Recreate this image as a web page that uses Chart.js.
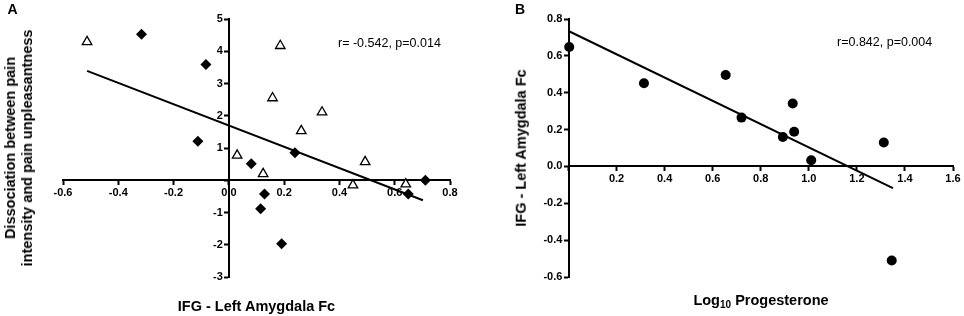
<!DOCTYPE html>
<html>
<head>
<meta charset="utf-8">
<script src="https://cdn.jsdelivr.net/npm/chart.js@4.4.1/dist/chart.umd.min.js"></script>
<style>
  body { margin: 0; background: #fff; }
  #wrap { position: relative; width: 964px; height: 316px; overflow: hidden;
          font-family: "Liberation Sans", Arial, sans-serif; color: #000; }
  canvas { position: absolute; top: 0; }
  .txt { position: absolute; white-space: nowrap; line-height: 1; }
  .ctr { transform: translate(-50%, -50%); }
  .bold { font-weight: bold; }
</style>
</head>
<body>
<div id="wrap">
  <canvas id="chartA" width="480" height="316" style="left:0"></canvas>
  <canvas id="chartB" width="484" height="316" style="left:480px"></canvas>

  <div class="txt bold ctr" style="left:12.5px; top:9px; font-size:14px">A</div>
  <div class="txt bold ctr" style="left:520px; top:9px; font-size:14px">B</div>

  <div class="txt" style="left:338px; top:37px; font-size:12.5px">r= -0.542, p=0.014</div>
  <div class="txt" style="left:837px; top:36px; font-size:12.5px">r=0.842, p=0.004</div>

  <div class="txt bold ctr" style="left:256.5px; top:305.5px; font-size:14.5px">IFG - Left Amygdala Fc</div>
  <div class="txt bold ctr" style="left:761px; top:300px; font-size:14.5px">Log<span style="font-size:10px; position:relative; top:3px">10</span> Progesterone</div>

  <div class="txt bold" style="left:18.8px; top:148px; font-size:14.5px; line-height:17px; text-align:center;
       transform: translate(-50%, -50%) rotate(-90deg)">Dissociation between pain<br>intensity and pain unpleasantness</div>
  <div class="txt bold" style="left:520.5px; top:147.5px; font-size:14.5px;
       transform: translate(-50%, -50%) rotate(-90deg)">IFG - Left Amygdala Fc</div>
</div>

<script>
// Panel A: open triangles and filled diamonds
const triX = [-0.513, 0.186, 0.158, 0.337, 0.262, 0.030, 0.124, 0.493, 0.449, 0.640];
const triY = [4.29, 4.17, 2.55, 2.11, 1.53, 0.77, 0.20, 0.57, -0.15, -0.12];
const diaX = [-0.316, -0.083, -0.112, 0.081, 0.239, 0.129, 0.115, 0.191, 0.711, 0.649];
const diaY = [4.53, 3.59, 1.21, 0.51, 0.85, -0.43, -0.88, -1.97, 0.0, -0.43];
const fitAX = [-0.513, 0.702];
const fitAY = [3.39, -0.62];

// Panel B: progesterone vs Fc
const progX = [0.003, 0.314, 0.654, 0.720, 0.933, 0.939, 0.892, 1.010, 1.312, 1.345];
const fcY = [0.648, 0.451, 0.496, 0.265, 0.341, 0.188, 0.160, 0.034, 0.130, -0.510];
const fitBX = [0, 1.35];
const fitBY = [0.735, -0.118];

const toPts = (xs, ys) => xs.map((x, i) => ({ x: x, y: ys[i] }));
const tickFont = { family: '"Liberation Sans", Arial, sans-serif', size: 11, weight: 'bold' };
const oneDec = v => (Math.abs(v) < 1e-9 ? 0 : v).toFixed(1);
// y labels on an axis placed at x=0 get drawn right on the line, so pad them
const gap = '  ';

function axis(min, max, step, pos, cb, pad) {
  return {
    type: 'linear', min: min, max: max, position: pos,
    border: { display: true, color: '#000', width: 2 },
    grid: { display: true, drawOnChartArea: false, drawTicks: true,
            tickLength: 4, tickWidth: 2, tickColor: '#000' },
    ticks: { stepSize: step, color: '#000', font: tickFont, padding: pad,
             autoSkip: false, maxRotation: 0, callback: cb }
  };
}

const baseOpts = {
  responsive: false,
  animation: false,
  plugins: { legend: { display: false }, tooltip: { enabled: false } }
};

new Chart('chartA', {
  type: 'scatter',
  data: {
    datasets: [{
      data: toPts(triX, triY),
      pointStyle: 'triangle', pointRadius: 5.5,
      backgroundColor: '#fff', borderColor: '#000', borderWidth: 1.3, clip: false
    }, {
      data: toPts(diaX, diaY),
      pointStyle: 'rectRot', pointRadius: 5.5,
      backgroundColor: '#000', borderColor: '#000', borderWidth: 0, clip: false
    }, {
      data: toPts(fitAX, fitAY),
      showLine: true, pointRadius: 0,
      borderColor: '#000', borderWidth: 2, fill: false
    }]
  },
  options: Object.assign({}, baseOpts, {
    layout: { padding: { left: 63, right: 30, top: 19, bottom: 39 } },
    scales: {
      x: axis(-0.6, 0.8, 0.2, { y: 0 }, v => oneDec(v), 2),
      y: axis(-3, 5, 1, { x: 0 }, v => (v === 0 ? '' : v + gap), 1)
    }
  })
});

new Chart('chartB', {
  type: 'scatter',
  data: {
    datasets: [{
      data: toPts(progX, fcY),
      pointStyle: 'circle', pointRadius: 5,
      backgroundColor: '#000', borderColor: '#000', borderWidth: 0, clip: false
    }, {
      data: toPts(fitBX, fitBY),
      showLine: true, pointRadius: 0,
      borderColor: '#000', borderWidth: 2, fill: false
    }]
  },
  options: Object.assign({}, baseOpts, {
    layout: { padding: { left: 88.5, right: 11, top: 19, bottom: 39 } },
    scales: {
      x: axis(0, 1.6, 0.2, { y: 0 }, v => (Math.abs(v) < 1e-9 ? '' : oneDec(v)), 2),
      y: axis(-0.6, 0.8, 0.2, { x: 0 }, v => oneDec(v) + gap, 3)
    }
  })
});
</script>
</body>
</html>
